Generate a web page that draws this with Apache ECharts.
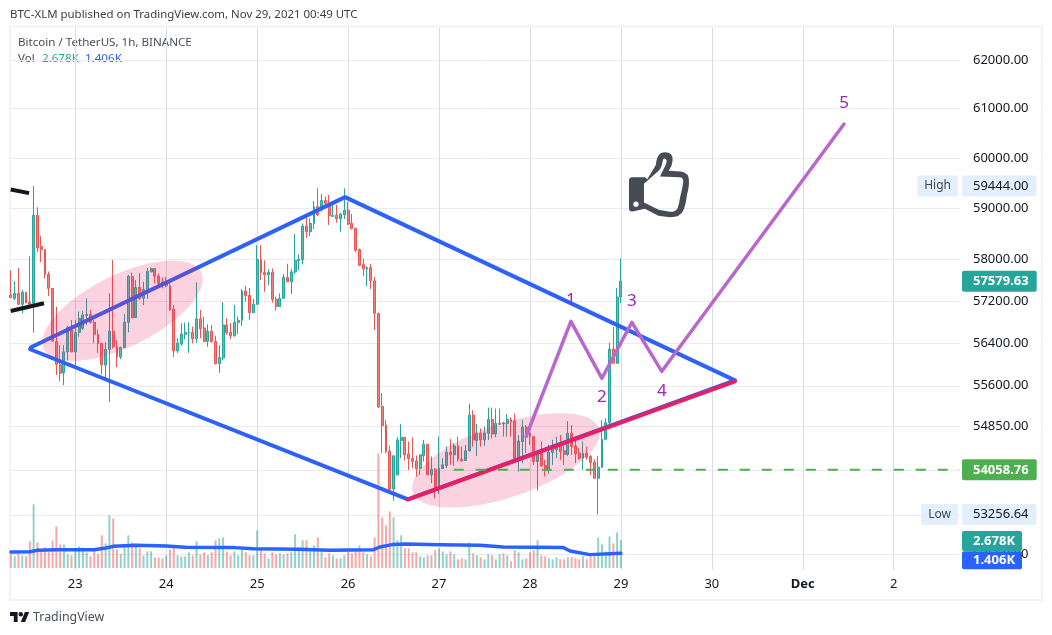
<!DOCTYPE html>
<html><head><meta charset="utf-8">
<style>html,body{margin:0;padding:0;background:#fff}#c{width:1052px;height:635px}</style>
<script src="https://cdn.jsdelivr.net/npm/echarts@6/dist/echarts.min.js"></script>
</head><body><div id="c"></div>
<script>
// [open, close, low, high] hourly candles from Nov 22 07:00
const candles=[[57314,57263,57263,57790],[57250,57345,57218,57580],[57345,57136,57123,57834],[57136,57365,56964,57409],[57365,57168,57155,57365],[57174,57136,57136,58059],[57155,58862,56596,59444],[58862,58224,58145,59020],[58250,58191,57949,58454],[58191,57707,57631,58191],
[57707,57441,57295,57765],[57441,56437,56425,57441],[56431,55993,55802,57091],[55993,55834,55682,56361],[55841,56234,55612,56361],[56234,56691,56075,56723],[56647,56234,56234,56837],[56234,56602,55980,56837],[56602,56869,56520,56996],[56679,56933,56647,57015],
[56920,56946,56742,57250],[56946,56793,56774,57028],[56793,56564,56393,56837],[56564,56387,56215,56660],[56393,55993,55809,56406],[55987,56279,55726,56412],[56279,56622,55301,57345],[56622,56329,56298,57993],[56329,56139,55949,56457],[56139,56317,56095,56329],
[56317,56793,56298,56952],[56793,57676,56602,57695],[57669,56882,56869,57746],[56882,57460,56882,57600],[57460,57250,57218,57739],[57250,57422,57123,57568],[57422,57765,57238,57834],[57758,57822,57758,57847],[57822,57676,57536,57834],[57676,57536,57460,57727],
[57568,57492,57441,57650],[57492,57536,57460,57663],[57492,57028,57015,57568],[57041,56253,56139,57123],[56253,56399,56215,56488],[56380,56571,56348,56774],[56564,56602,56469,56787],[56590,56602,56215,56793],[56602,56482,56393,56710],[56482,56857,56406,57555],
[56857,56672,56488,57028],[56685,56431,56418,56901],[56431,56622,56329,56755],[56622,56431,56406,56742],[56431,56012,55999,56539],[56012,56126,55841,56361],[56120,56742,56075,57174],[56742,56596,56552,56869],[56602,56539,56476,56774],[56539,56793,56520,57123],
[56787,56831,56571,56901],[56831,57390,56723,57428],[57390,57301,57187,57485],[57307,56977,56837,57447],[56977,57136,56977,57238],[57136,58000,57136,58276],[58000,57746,57600,58276],[57746,57701,57377,57981],[57701,57746,57504,57809],[57746,57231,57168,57822],
[57231,57091,57015,57282],[57091,57250,57091,57345],[57250,57650,57250,57714],[57650,57568,57568,57917],[57568,57758,57333,57815],[57758,57981,57714,58494],[57975,58000,57790,58099],[57993,58652,57904,58704],[58652,58540,58421,58823],[58540,58704,58454,58803],
[58704,59033,58592,59145],[59033,58869,58849,59395],[59033,59152,58935,59283],[59152,59099,59020,59231],[59099,58856,58671,59264],[58842,58856,58836,59066],[58869,58796,58717,59066],[58796,58882,58540,58915],[58875,58961,58790,59395],[58961,58691,58671,59132],
[58704,58599,58586,58888],[58606,58178,58145,58619],[58191,57885,57866,58211],[57898,57815,57676,58013],[57815,57841,57485,57866],[57841,57587,57428,57917],[57587,56964,56647,57663],[56964,55207,55190,56964],[55219,54862,54360,55467],[54874,54390,54360,54965],
[54396,53707,53695,54499],[53713,54312,53501,54312],[53967,54602,53967,54650],[54590,54650,54269,54892],[54650,54330,54227,54650],[54348,54263,54057,54572],[54269,54209,54088,54650],[54221,54076,53936,54318],[54082,54330,53967,54330],[54318,54523,54209,54602],
[54523,53967,53967,54523],[53967,54070,53816,54300],[54070,53695,53543,54088],[53725,54088,53622,54662],[54082,54148,54070,54269],[54136,54378,54088,54481],[54378,54330,54148,54614],[54330,54493,54130,54541],[54493,54251,54209,54662],[54251,54221,54209,54481],
[54227,54402,54221,54511],[54402,55056,54390,55268],[55056,54602,54481,55147],[54590,54723,54312,54892],[54723,54602,54481,54814],[54602,54729,54493,54844],[54723,54977,54602,55195],[54977,54711,54632,55195],[54711,54905,54650,55177],[54892,54905,54874,55177],
[54917,54898,54662,54935],[54905,54977,54662,55074],[54977,54935,54662,55013],[54953,54269,54209,55086],[54257,54584,54027,54693],[54572,54832,54179,54965],[54832,54675,54360,54874],[54723,54662,54511,54874],[54662,54209,54148,54675],[54209,54348,53682,54420],
[54348,54130,54118,54572],[54136,54045,53936,54239],[54045,54378,53985,54511],[54372,54433,54148,54602],[54420,54511,54269,54662],[54511,54390,54239,54693],[54402,54336,54148,54511],[54336,54723,54312,54947],[54723,54481,54330,54874],[54493,54348,54179,54602],
[54360,54269,54239,54451],[54269,54360,54057,54572],[54360,54287,54239,54481],[54300,54191,53967,54330],[54197,53906,53906,54251],[53906,54106,53256.64,54312],[54106,54614,54088,54965],[54614,54917,54602,54995],[54917,56286,54880,56400],[56286,56019,56019,56705],
[56019,57276,56019,57448],[57276,57579.63,57162,58020]];
// volume in thousands
const volumes=[1.37,1.12,1.37,1.21,1.12,2.55,6.09,2.46,1.69,1.98,1.53,2.65,3.99,2.26,2.26,1.31,1.21,1.75,2.07,1.95,1.50,1.12,1.63,1.37,3.13,2.36,5.04,4.75,1.79,1.37,2.07,3.13,2.46,2.36,1.88,1.21,1.59,1.59,1.02,1.02,.93,1.21,1.79,1.98,1.21,1.12,1.12,1.50,1.21,2.55,1.31,1.50,1.21,1.50,2.65,2.84,2.93,1.59,1.21,1.59,1.21,1.79,1.50,1.21,1.21,3.60,1.98,1.40,.93,1.50,1.31,1.40,1.31,1.40,1.50,3.22,1.98,2.65,2.65,1.69,2.17,2.93,1.59,1.02,1.40,
1.21,.93,.93,1.21,1.59,1.40,1.59,2.17,1.50,1.31,1.12,2.93,10.97,4.85,4.08,5.42,4.85,2.65,3.13,1.88,1.88,1.50,1.50,1.12,1.02,1.21,1.21,1.69,1.88,1.59,1.31,1.59,1.31,.83,.93,.83,2.46,1.40,1.21,1.02,.83,1.31,1.21,.83,1.31,1.40,1.21,.64,1.69,1.50,.83,.93,1.50,1.69,2.65,1.21,1.12,.93,.83,1.02,.83,.83,1.02,1.02,.93,.83,1.12,.83,1.12,1.12,2.93,2.26,1.59,3.03,2.36,3.41,2.678];
// volume moving average [hour index, thousands]
const volumeMA=[[0,1.53],[5,1.56],[7,1.69],[12,1.75],[22,1.75],[25,1.91],[27,2.07],[33,2.17],[41,2.11],[46,1.98],[59,1.95],[64,1.85],[76,1.79],[84,1.69],[95.7,1.75],[97.4,2.01],[100.9,2.26],[104.4,2.30],[113.2,2.23],[123.8,2.17],[130,2.01],[145.8,1.95],[147.6,1.63],[152.8,1.28],[161,1.406]];
const priceTicks=[62000,61000,60000,59000,58000,57200,56400,55600,54850,54050,53250,52550];
const dayTicks=[[17,'23'],[41,'24'],[65,'25'],[89,'26'],[113,'27'],[137,'28'],[161,'29'],[185,'30'],[209,'Dec'],[233,'2']];
const hourCount=251;
// drawings: [hour index, price]
const diamond=[[5.3,56320],[88.2,59221],[191.1,55701],[104.8,53526],[5.04,56283]];
const pinkTrend=[[104.8,53526],[191.1,55682]];
const wavePath=[[136,54667],[147.8,56812],[156,55739],[163.9,56793],[171.8,55869],[219.9,60686]];
const waveLabels=[[147.8,57213,'1'],[156,55385,'2'],[163.9,57194,'3'],[171.8,55497,'4'],[219.9,61113,'5']];
const blackStrokes=[[[-0.05,59373],[4.8,59300]],[[-0.05,57009],[8.74,57156]]];
const lastPriceLine=[[116.9,54058.76],[250.5,54058.76]];
const ellipses=[[8.74,56283,50.2,57752,0.41],[106.1,53651,155.2,54814,0.373]];
const thumbAnchor=[171.05,59469];

const font='"Noto Sans","Open Sans",sans-serif';
const categories=Array.from({length:hourCount},(_,i)=>{const d=dayTicks.find(t=>t[0]===i);return d?d[1]:'';});
const isDay=i=>categories[i]!=='';
const thumb='path://M207 122 Q207 112 217 112 L255 112 L262 118 L288 75 Q290 37 315 37 Q340 37 338 62 Q337 78 326 93 L362 95 Q388 98 387 125 Q388 140 381 165 Q378 195 370 212 Q362 232 330 232 L295 228 L255 207 L217 215 Q207 215 207 205 Z M236 193 A8 8 0 1 0 220 193 A8 8 0 1 0 236 193 Z M252 132 L252 188 L296 210 L330 216 Q348 216 353 205 Q358 190 361 170 Q368 145 370 125 Q370 112 358 112 L300 110 L316 78 Q322 65 319 60 Q315 52 309 60 Q305 85 297 92 Z';
const lineOpt=(name,data,color,width,z,extra)=>Object.assign({name,type:'line',data,xAxisIndex:1,yAxisIndex:0,symbol:'none',silent:true,animation:false,clip:false,z,lineStyle:{color,width,cap:'round',join:'round'}},extra||{});
const tag=(label,value,bg,color,pos,pad,gridIdx,opt)=>({name:label,type:'scatter',xAxisIndex:gridIdx?3:1,yAxisIndex:gridIdx?1:0,data:[[250.5,value]],symbolSize:1,itemStyle:{color:'transparent',opacity:1},clip:false,silent:true,animation:false,z:20,
  label:Object.assign({show:true,position:pos,distance:1.5,formatter:label,color,backgroundColor:bg,fontFamily:font,fontSize:13,lineHeight:13,padding:pad,borderRadius:2},opt||{})});

const chart=echarts.init(document.getElementById('c'),null,{renderer:'canvas'});
chart.setOption({
  animation:false,backgroundColor:'#fff',
  grid:[{left:9,top:28,width:951,height:542},{left:9,top:368,width:951,height:200}],
  xAxis:[
    {type:'category',gridIndex:0,data:categories,boundaryGap:true,axisLine:{show:false},axisTick:{show:false,alignWithLabel:true},
      axisLabel:{interval:i=>isDay(i),color:'#131722',fontFamily:font,fontSize:13,margin:8,
        formatter:v=>v==='Dec'?'{b|Dec}':v,rich:{b:{fontWeight:'bold',fontFamily:font,fontSize:13,color:'#131722'}}},
      splitLine:{show:true,alignWithLabel:true,interval:i=>isDay(i),lineStyle:{color:'#d9dce3',width:1}}},
    {type:'value',gridIndex:0,min:-0.5,max:250.5,show:false,splitLine:{show:false}},
    {type:'category',gridIndex:1,data:categories,show:false},
    {type:'value',gridIndex:1,min:-0.5,max:250.5,show:false,splitLine:{show:false}}
  ],
  yAxis:[
    {type:'log',logBase:10,gridIndex:0,position:'right',min:52277,max:62668,axisLine:{show:false},
      axisTick:{show:false,customValues:priceTicks},
      axisLabel:{customValues:priceTicks,color:'#131722',fontFamily:font,fontSize:13,margin:13,formatter:v=>Number(v).toFixed(2)},
      splitLine:{show:true,lineStyle:{color:'#e9ebf1',width:1}}},
    {type:'value',gridIndex:1,min:0,max:19.14,show:false,splitLine:{show:false}}
  ],
  series:[
    {name:'Vol',type:'bar',xAxisIndex:2,yAxisIndex:1,barWidth:2,silent:true,z:1,
      data:volumes.map((v,i)=>({value:v,itemStyle:{color:candles[i][1]>=candles[i][0]?'rgba(38,166,154,.5)':'rgba(239,83,80,.5)'}}))},
    lineOpt('Vol MA',volumeMA,'#2962ff',3.5,3,{xAxisIndex:3,yAxisIndex:1}),
    {name:'BTCUSDT',type:'candlestick',xAxisIndex:0,yAxisIndex:0,data:candles,barWidth:2.4,silent:true,z:2,
      itemStyle:{color:'#5fbfb5',color0:'#f2807d',borderColor:'#26a69a',borderColor0:'#ef5350',borderWidth:1}},
    lineOpt('Diamond',diamond,'#2e62f6',4,4),
    lineOpt('Black 1',blackStrokes[0],'#131722',4,4,{lineStyle:{color:'#131722',width:4,cap:'butt'}}),
    lineOpt('Black 2',blackStrokes[1],'#131722',4,4,{lineStyle:{color:'#131722',width:4,cap:'butt'}}),
    {name:'Ellipses',type:'custom',xAxisIndex:1,yAxisIndex:0,data:ellipses,silent:true,z:5,clip:false,
      encode:{x:[0,2],y:[1,3]},
      renderItem:(p,api)=>{
        const a=api.coord([api.value(0),api.value(1)]),b=api.coord([api.value(2),api.value(3)]),r=api.value(4);
        const cx=(a[0]+b[0])/2,cy=(a[1]+b[1])/2,ux=(b[0]-a[0])/2,uy=(b[1]-a[1])/2,pts=[];
        for(let k=0;k<96;k++){const t=k/96*2*Math.PI,c=Math.cos(t),s=Math.sin(t);pts.push([cx+ux*c-uy*r*s,cy+uy*c+ux*r*s]);}
        return {type:'polygon',shape:{points:pts},style:{fill:'rgba(233,30,99,0.2)'}};
      }},
    lineOpt('Trend',pinkTrend,'#e91e63',4,6),
    lineOpt('Wave',wavePath,'#b868cc',3.5,6),
    lineOpt('Last',lastPriceLine,'#4caf50',2,6,{lineStyle:{color:'#4caf50',width:2,type:[10,12]}}),
    {name:'Wave labels',type:'scatter',xAxisIndex:1,yAxisIndex:0,symbolSize:1,itemStyle:{color:'transparent',opacity:1},silent:true,z:7,clip:false,
      data:waveLabels.map(w=>({value:[w[0],w[1]],label:{formatter:w[2]}})),
      label:{show:true,position:'inside',color:'#9c27b0',fontSize:17,fontFamily:font}},
    {name:'Thumb',type:'scatter',xAxisIndex:1,yAxisIndex:0,data:[thumbAnchor],symbol:thumb,symbolSize:[60,65],symbolKeepAspect:false,itemStyle:{color:'#484b55',opacity:1},silent:true,z:7,clip:false},
    tag('High',59444,'#e3effd','#434651','left',[4,7,4,7],0,{fontSize:12}),
    tag('59444.00',59444,'#e3effd','#131722','right',[4,8,4,11],0),
    tag('57579.63',57579.63,'#26a69a','#fff','right',[4,8,4,11],0,{fontWeight:'bold'}),
    tag('54058.76',54058.76,'#4caf50','#fff','right',[4,8,4,11],0,{fontWeight:'bold'}),
    tag('Low',53256.64,'#e3effd','#434651','left',[4,7,4,7],0,{fontSize:12}),
    tag('53256.64',53256.64,'#e3effd','#131722','right',[4,8,4,11],0),
    tag('2.678K',2.678,'#26a69a','#fff','right',[4,7,3,11],1,{fontWeight:'bold',offset:[0,1]}),
    tag('1.406K',1.406,'#2962ff','#fff','right',[3,7,2,11],1,{fontWeight:'bold',offset:[0,7]})
  ],
  graphic:{elements:[
    {type:'rect',silent:true,z:-1,shape:{x:10,y:26.5,width:1032,height:573.5},style:{fill:'none',stroke:'#f0f3fa',lineWidth:2}},
    {type:'text',silent:true,x:10,y:9,style:{text:'BTC-XLM published on TradingView.com, Nov 29, 2021 00:49 UTC',fill:'#3a3d46',font:'11.45px '+font}},
    {type:'text',silent:true,x:18,y:37,style:{text:'Bitcoin / TetherUS, 1h, BINANCE',fill:'#4a4e59',font:'11.6px '+font}},
    {type:'text',silent:true,x:18,y:53,style:{text:'Vol',fill:'#4a4e59',font:'11.6px '+font}},
    {type:'text',silent:true,x:42,y:53,style:{text:'2.678K',fill:'#26a69a',font:'11.6px '+font}},
    {type:'text',silent:true,x:85,y:53,style:{text:'1.406K',fill:'#2962ff',font:'11.6px '+font}},
    {type:'polygon',silent:true,shape:{points:[[10,612],[17.6,612],[17.6,622],[13.8,622],[13.8,615.9],[10,615.9]]},style:{fill:'#131722'}},
    {type:'polygon',silent:true,shape:{points:[[24.9,612],[29.2,612],[25.1,622],[20.8,622]]},style:{fill:'#131722'}},
    {type:'circle',silent:true,shape:{cx:20.8,cy:614.2,r:2.2},style:{fill:'#131722'}},
    {type:'text',silent:true,x:33,y:611,style:{text:'TradingView',fill:'#4a4e59',font:'12.4px '+font}}
  ]}
});
</script></body></html>
